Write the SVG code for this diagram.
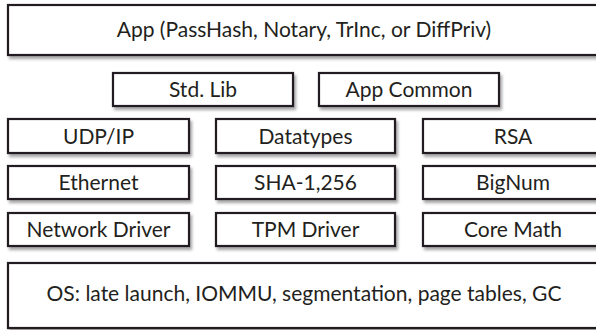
<svg xmlns="http://www.w3.org/2000/svg" width="596" height="330" viewBox="0 0 596 330">
<defs>
<filter id="sh" x="-5%" y="-20%" width="115%" height="160%">
<feDropShadow dx="2" dy="3" stdDeviation="1.5" flood-color="#000" flood-opacity="0.35"/>
</filter>
<style>
.b{fill:#fff;stroke:#231f20;stroke-width:2.2;filter:url(#sh)}
.t{font-family:Lato,"Liberation Sans",sans-serif;font-size:21px;fill:#231f20;text-anchor:middle}
</style>
</defs>
<rect width="596" height="330" fill="#fff"/>
<g id="app"><rect class="b" x="8" y="5" width="594" height="50"/><text class="t" x="304" y="37">App (PassHash, Notary, TrInc, or DiffPriv)</text></g>
<g id="stdlib"><rect class="b" x="113" y="73" width="180" height="33"/><text class="t" x="203" y="97">Std. Lib</text></g>
<g id="appcommon"><rect class="b" x="319" y="73" width="180" height="33"/><text class="t" x="409" y="97">App Common</text></g>
<g id="udpip"><rect class="b" x="8" y="119" width="181" height="34"/><text class="t" x="98.5" y="144">UDP/IP</text></g>
<g id="datatypes"><rect class="b" x="216" y="119" width="179" height="34"/><text class="t" x="305.5" y="144">Datatypes</text></g>
<g id="rsa"><rect class="b" x="423" y="119" width="180" height="34"/><text class="t" x="513" y="144">RSA</text></g>
<g id="ethernet"><rect class="b" x="8" y="166" width="181" height="33"/><text class="t" x="98.5" y="190">Ethernet</text></g>
<g id="sha"><rect class="b" x="216" y="166" width="179" height="33"/><text class="t" x="305.5" y="190">SHA-1,256</text></g>
<g id="bignum"><rect class="b" x="423" y="166" width="180" height="33"/><text class="t" x="513" y="190">BigNum</text></g>
<g id="netdriver"><rect class="b" x="8" y="213" width="181" height="33"/><text class="t" x="98.5" y="237">Network Driver</text></g>
<g id="tpmdriver"><rect class="b" x="216" y="213" width="179" height="33"/><text class="t" x="305.5" y="237">TPM Driver</text></g>
<g id="coremath"><rect class="b" x="423" y="213" width="180" height="33"/><text class="t" x="513" y="237">Core Math</text></g>
<g id="os"><rect class="b" x="8" y="263" width="594" height="65"/><text class="t" x="304" y="301">OS: late launch, IOMMU, segmentation, page tables, GC</text></g>
</svg>
